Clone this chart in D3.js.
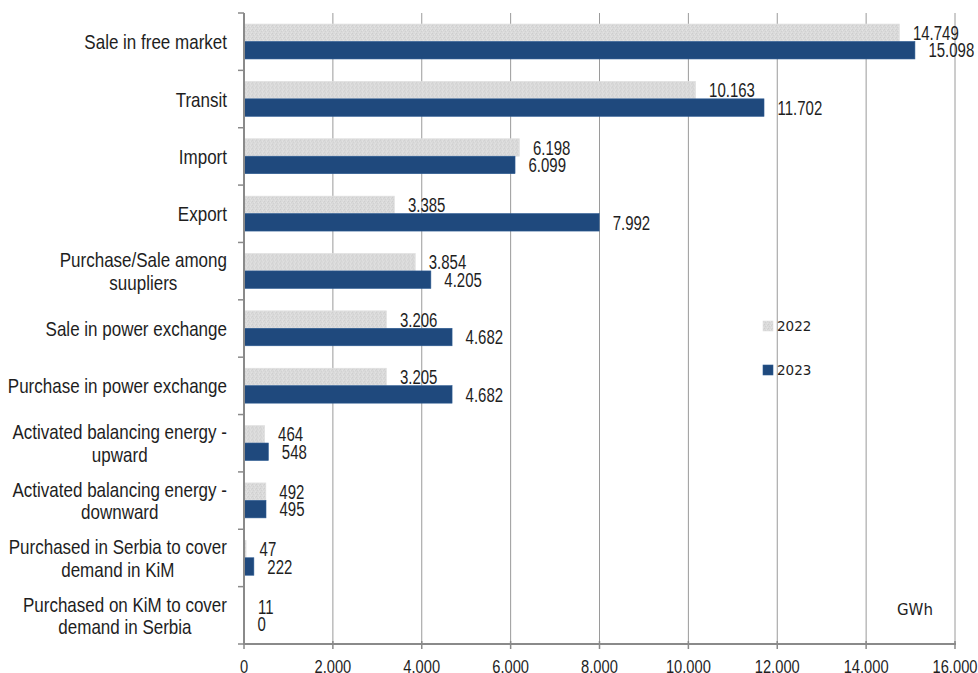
<!DOCTYPE html>
<html>
<head>
<meta charset="utf-8">
<script src="https://cdn.jsdelivr.net/npm/d3@7"></script>
<style>
  html, body { margin: 0; padding: 0; background: #fff; }
  svg { display: block; }
  .cat, .val, .tick-lbl { font-family: "Liberation Sans", Arial, sans-serif; fill: #1e1e1e; }
  .leg, .unit { font-family: "DejaVu Sans", sans-serif; fill: #1e1e1e; }
</style>
</head>
<body>
<svg id="chart" width="978" height="673"></svg>
<script>
// Electricity traded by category, GWh
const categories = [
  "Sale in free market",
  "Transit",
  "Import",
  "Export",
  "Purchase/Sale among\nsuupliers",
  "Sale in power exchange",
  "Purchase in power exchange",
  "Activated balancing energy -\nupward",
  "Activated balancing energy -\ndownward",
  "Purchased in Serbia to cover\ndemand in KiM",
  "Purchased on KiM to cover\ndemand in Serbia"
];
const seriesNames = ["2022", "2023"];
const values2022 = [14749, 10163, 6198, 3385, 3854, 3206, 3205, 464, 492, 47, 11];
const values2023 = [15098, 11702, 6099, 7992, 4205, 4682, 4682, 548, 495, 222, 0];
const xTickValues = [0, 2000, 4000, 6000, 8000, 10000, 12000, 14000, 16000];
const unitLabel = "GWh";

const rows = categories.map((c, i) => ({ cat: c, vals: [values2022[i], values2023[i]] }));

const fmt = d3.formatLocale({ decimal: ",", thousands: ".", grouping: [3], currency: ["", ""] }).format(",");

const svg = d3.select("#chart");
const plotLeft = 244, plotRight = 955, plotTop = 13, plotBottom = 644;

const x = d3.scaleLinear().domain([0, 16000]).range([plotLeft, plotRight]);
const y = d3.scaleBand().domain(categories).range([plotTop, plotBottom]).padding(0);
const ySub = d3.scaleBand().domain(seriesNames).range([11, y.bandwidth() - 11.4]).padding(0);

// Speckled light-grey fill for the 2022 series
const defs = svg.append("defs");
const pat = defs.append("pattern").attr("id", "speck")
  .attr("width", 4).attr("height", 4).attr("patternUnits", "userSpaceOnUse");
pat.append("rect").attr("width", 4).attr("height", 4).attr("fill", "#dadada");
[[0, 0, "#cdcdcd"], [2, 1, "#e4e4e4"], [1, 2, "#d0d0d0"], [3, 3, "#e2e2e2"], [3, 1, "#d2d2d2"]].forEach(([px, py, c]) =>
  pat.append("rect").attr("x", px).attr("y", py).attr("width", 1).attr("height", 1).attr("fill", c));

const colors = { "2022": "url(#speck)", "2023": "#1f497d" };

// Vertical gridlines
svg.append("g").selectAll("line").data(xTickValues.slice(1)).join("line")
  .attr("x1", d => x(d)).attr("x2", d => x(d))
  .attr("y1", plotTop).attr("y2", plotBottom)
  .attr("stroke", "#9a9a9a").attr("stroke-width", 1);

// Bars
const groups = svg.append("g").selectAll("g").data(rows).join("g")
  .attr("transform", d => `translate(0,${y(d.cat)})`);

groups.selectAll("rect").data(d => d.vals.map((v, k) => ({ key: seriesNames[k], v }))).join("rect")
  .attr("x", x(0))
  .attr("y", d => ySub(d.key))
  .attr("width", d => x(d.v) - x(0))
  .attr("height", ySub.bandwidth())
  .attr("fill", d => colors[d.key])
  .attr("stroke", d => d.key === "2023" ? "#2c5a92" : "#e0e0e0")
  .attr("stroke-width", d => d.v > 0 ? 0.6 : 0);

// Value labels
groups.selectAll("text").data(d => d.vals.map((v, k) => ({ key: seriesNames[k], v }))).join("text")
  .attr("class", "val")
  .attr("font-size", 15)
  .attr("dy", "0.36em")
  .attr("transform", d => `translate(${x(d.v) + 13.5},${ySub(d.key) + ySub.bandwidth() / 2}) scale(1,1.33)`)
  .text(d => fmt(d.v));

// Axis lines
svg.append("line").attr("x1", plotLeft).attr("x2", plotLeft).attr("y1", plotTop).attr("y2", plotBottom)
  .attr("stroke", "#8a8a8a").attr("stroke-width", 2);
svg.append("line").attr("x1", plotLeft - 1).attr("x2", plotRight + 1).attr("y1", plotBottom).attr("y2", plotBottom)
  .attr("stroke", "#8a8a8a").attr("stroke-width", 2);

// Category tick marks
const catEdges = categories.map(c => y(c)).concat([plotBottom]);
svg.append("g").selectAll("line").data(catEdges).join("line")
  .attr("x1", plotLeft - 6).attr("x2", plotLeft)
  .attr("y1", d => d).attr("y2", d => d)
  .attr("stroke", "#8a8a8a").attr("stroke-width", 1.5);

// X tick marks and labels
svg.append("g").selectAll("line").data(xTickValues).join("line")
  .attr("x1", d => x(d)).attr("x2", d => x(d))
  .attr("y1", plotBottom - 3).attr("y2", plotBottom + 5)
  .attr("stroke", "#8a8a8a").attr("stroke-width", 1.5);

svg.append("g").selectAll("text").data(xTickValues).join("text")
  .attr("class", "tick-lbl")
  .attr("font-size", 14.7)
  .attr("text-anchor", "middle")
  .attr("dy", "0.36em")
  .attr("transform", d => `translate(${x(d)},666) scale(1,1.27)`)
  .text(d => fmt(d));

// Category labels (multi-line blocks right-aligned, lines centred within block)
const labelRight = 227, lineGap = 22.5;
categories.forEach(c => {
  const lines = c.split("\n");
  const cy = y(c) + y.bandwidth() / 2;
  const g = svg.append("g");
  const texts = lines.map(ln => g.append("text")
    .attr("class", "cat")
    .attr("font-size", 17)
    .attr("text-anchor", "middle")
    .attr("dy", "0.36em")
    .text(ln));
  const maxW = d3.max(texts, t => t.node().getComputedTextLength());
  texts.forEach((t, j) => {
    const ly = cy + (j - (lines.length - 1) / 2) * lineGap;
    t.attr("transform", `translate(${labelRight - maxW / 2},${ly}) scale(1,1.22)`);
  });
});

// Legend
const legY = [326, 370];
seriesNames.forEach((s, k) => {
  svg.append("rect").attr("x", 763).attr("y", legY[k] - 5).attr("width", 10).attr("height", 10)
    .attr("fill", colors[s]).attr("stroke", s === "2023" ? "#2c5a92" : "#e0e0e0").attr("stroke-width", 0.6);
  svg.append("text").attr("class", "leg").attr("font-size", 13.5)
    .attr("x", 777).attr("y", legY[k]).attr("dy", "0.36em").text(s);
});

// Unit label
svg.append("text").attr("class", "unit").attr("font-size", 15)
  .attr("x", 897).attr("y", 610).attr("dy", "0.36em").text(unitLabel);
</script>
</body>
</html>
